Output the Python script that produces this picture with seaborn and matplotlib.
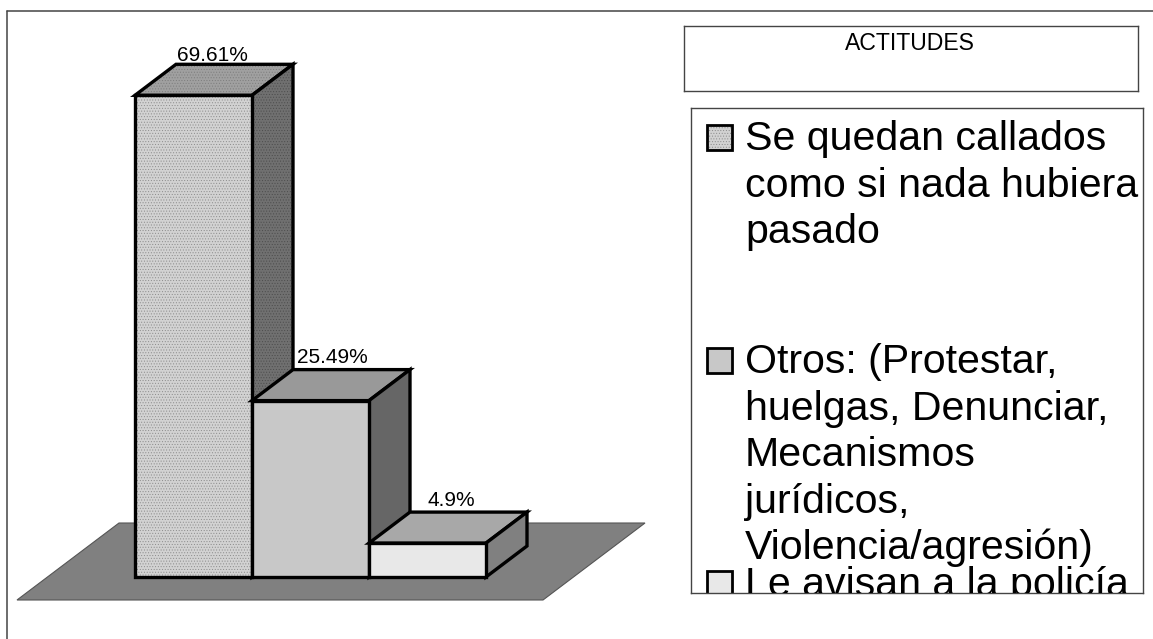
import matplotlib
matplotlib.use("Agg")
import matplotlib.pyplot as plt
from matplotlib.lines import Line2D
from matplotlib.patches import Polygon, Rectangle
import pandas as pd
import seaborn as sns

# --- DATA ---
CATEGORIES = ["Se quedan callados", "Otros", "Le avisan a la policía"]
VALUES = [69.61, 25.49, 4.9]
VALUE_LABELS = ["69.61%", "25.49%", "4.9%"]
LEGEND_LABELS = [
    "Se quedan callados\ncomo si nada hubiera\npasado",
    "Otros: (Protestar,\nhuelgas, Denunciar,\nMecanismos\njurídicos,\nViolencia/agresión)",
    "Le avisan a la policía",
]
TITLE = "ACTITUDES"

# --- STYLE ---
FRONT_COLORS = ["#d2d2d2", "#c8c8c8", "#e8e8e8"]
TOP_COLORS = ["#a0a0a0", "#999999", "#a8a8a8"]
SIDE_COLORS = ["#707070", "#666666", "#808080"]
W, H = 1153, 639
PX_PER_CAT = 117
PX_PER_UNIT = 6.92
BASE_X, BASE_Y = 135, 577
EDGE = 2.4
LABEL_LIFT_PX = [3, 7, 6]
LABEL_SHIFT_PX = [19, 22, 24]
LEGEND_BASELINES = [150, 373, 596]

sns.set_theme(style="white")
plt.rcParams["font.family"] = ["Liberation Sans", "DejaVu Sans"]
plt.rcParams["text.color"] = "black"
plt.rcParams["hatch.linewidth"] = 0.4


def px_box(left, top, right, bottom):
    new_ax = fig.add_axes([left / W, 1 - bottom / H, (right - left) / W, (bottom - top) / H])
    new_ax.set_xlim(left, right)
    new_ax.set_ylim(bottom, top)
    new_ax.set_xticks([])
    new_ax.set_yticks([])
    return new_ax


def textured(target, points, color, dots):
    # hatch has its own colour, so the black outline goes on a second polygon
    target.add_patch(Polygon(points, closed=True, fc=color, ec=dots, hatch="......", lw=0, zorder=z))
    target.add_patch(Polygon(points, closed=True, fc="none", ec="black", lw=EDGE, zorder=z))


fig = plt.figure(figsize=(W / 100, H / 100), dpi=100)
fig.patch.set_facecolor("white")
ax = fig.add_axes([0, 0, 1, 1])

df = pd.DataFrame({"cat": CATEGORIES, "val": VALUES})
sns.barplot(data=df, x="cat", y="val", hue="cat", palette=FRONT_COLORS, order=CATEGORIES,
            width=1.0, edgecolor="black", linewidth=EDGE, legend=False, ax=ax)

# axes span the whole figure, so limits fix the scale of the bars
ax.set_xlim(-0.5 - BASE_X / PX_PER_CAT, -0.5 + (W - BASE_X) / PX_PER_CAT)
ax.set_ylim((BASE_Y - H) / PX_PER_UNIT, BASE_Y / PX_PER_UNIT)
ax.set_axis_off()

depth_x = 41 / PX_PER_CAT
depth_y = 31 / PX_PER_UNIT

# floor under the bars
floor_l = -0.5 - 118 / PX_PER_CAT
floor_r = floor_l + 526 / PX_PER_CAT
floor_low = -23 / PX_PER_UNIT
floor_high = 54 / PX_PER_UNIT
floor_shift = 102 / PX_PER_CAT
ax.add_patch(Polygon([(floor_l, floor_low), (floor_l + floor_shift, floor_high),
                      (floor_r + floor_shift, floor_high), (floor_r, floor_low)],
                     closed=True, fc="#808080", ec="#555555", lw=0.8, zorder=0))

bars = sorted([p for p in ax.patches if isinstance(p, Rectangle)], key=lambda p: p.get_x())
for i, bar in enumerate(bars):
    x0, x1 = bar.get_x(), bar.get_x() + bar.get_width()
    y1 = bar.get_height()
    z = 1 + 2 * i
    top_pts = [(x0, y1), (x0 + depth_x, y1 + depth_y), (x1 + depth_x, y1 + depth_y), (x1, y1)]
    side_pts = [(x1, 0), (x1 + depth_x, depth_y), (x1 + depth_x, y1 + depth_y), (x1, y1)]
    if i == 0:
        textured(ax, top_pts, TOP_COLORS[i], "#7c7c7c")
        textured(ax, side_pts, SIDE_COLORS[i], "#4c4c4c")
        z = 2
        bar.set_visible(False)
        textured(ax, [(x0, 0), (x0, y1), (x1, y1), (x1, 0)], FRONT_COLORS[i], "#8c8c8c")
    else:
        bar.set_zorder(z + 1)
        ax.add_patch(Polygon(top_pts, closed=True, fc=TOP_COLORS[i], ec="black", lw=EDGE, zorder=z))
        ax.add_patch(Polygon(side_pts, closed=True, fc=SIDE_COLORS[i], ec="black", lw=EDGE, zorder=z))
    ax.text((x0 + x1) / 2 + LABEL_SHIFT_PX[i] / PX_PER_CAT, y1 + depth_y + LABEL_LIFT_PX[i] / PX_PER_UNIT,
            VALUE_LABELS[i], ha="center", va="baseline", fontsize=15, color="black", zorder=10)

# outer frame, only left and top are inside the picture
frame = dict(transform=fig.transFigure, color="#444444", lw=1.1)
fig.add_artist(Line2D([6.5 / W, 6.5 / W], [0, 1 - 11 / H], **frame))
fig.add_artist(Line2D([6.5 / W, 1], [1 - 11 / H, 1 - 11 / H], **frame))

# title box
title_ax = px_box(684, 26, 1138, 91)
title_ax.text(910, 50, TITLE, ha="center", va="baseline", fontsize=16.6, color="black")

# legend box, entries run past the bottom and get clipped like the original
leg_ax = px_box(691, 108, 1143, 593)
for box_ax in (title_ax, leg_ax):
    for spine in box_ax.spines.values():
        spine.set_edgecolor("#444444")
        spine.set_linewidth(1.0)

line_px = 46.6
for i, label in enumerate(LEGEND_LABELS):
    base = LEGEND_BASELINES[i]
    if i == 0:
        leg_ax.add_patch(Rectangle((706.5, base - 25.5), 25, 25, fc=FRONT_COLORS[i], ec="#8c8c8c",
                                   hatch="......", lw=0))
    leg_ax.add_patch(Rectangle((706.5, base - 25.5), 25, 25, fc=FRONT_COLORS[i] if i else "none",
                               ec="black", lw=2.0))
    for n, line in enumerate(label.split("\n")):
        leg_ax.text(745, base + n * line_px, line, ha="left", va="baseline", fontsize=29.6,
                    color="black", clip_on=True)

fig.savefig("out.png", dpi=100)
